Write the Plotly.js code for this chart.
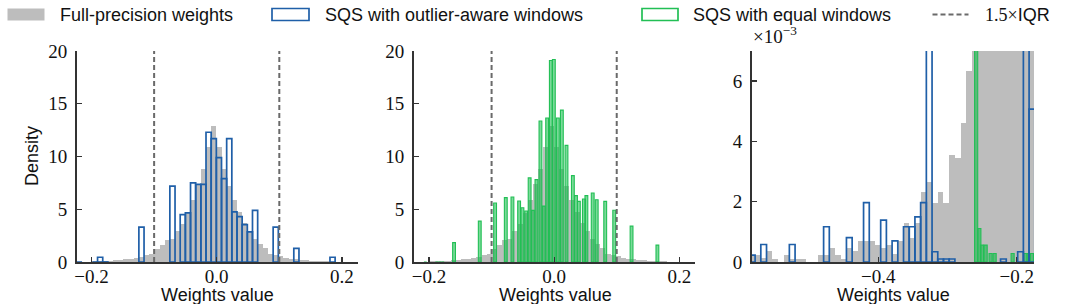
<!DOCTYPE html>
<html><head><meta charset="utf-8">
<script src="https://cdn.plot.ly/plotly-3.0.1.min.js"></script>
<style>html,body{margin:0;padding:0;background:#fff;} #chart{width:1079px;height:304px;}</style>
</head><body><div id="chart"></div>
<script>
// ---------- data ----------
// Histogram bins shared by full-precision and outlier-aware SQS
const binWidth = 0.00825;
const binOrigin = -0.0006;      // left edge of bin index 0
const fpFirstBin = -71;         // bin index of first entry in fpDensity

// Full-precision weights density, bins -71 .. 26
const fpDensity = [
  0.00023, 0.00023, 0.00012, 0.00036, 0.00011, 0, 0.00023, 0.00011, 0.00011, 0.00011,
  0, 0, 0.00023, 0.00023, 0.00048, 0.00023, 0.00011, 0.00048, 0.00036, 0.0007,
  0.0007, 0.0007, 0.00058, 0.00047, 0.00058, 0.00025, 0.0007, 0.00128, 0.00081, 0.00128,
  0.00232, 0.00264, 0.00197, 0.00232, 0.00197, 0.00356, 0.00345, 0.0046, 0.00634, 0.0085,
  0.011, 0.013, 0.016, 0.02, 0.025, 0.03, 0.04, 0.05, 0.07, 0.09,
  0.12, 0.15, 0.2, 0.25, 0.3, 0.4, 0.5, 0.62, 0.75, 1.25,
  1.65, 2.05, 2.2, 2.9, 3.6, 4.65, 5.9, 7.35, 8.8, 10.9,
  12.9, 10.9, 8.8, 7.2, 5.9, 4.75, 3.65, 2.9, 2.2, 1.75,
  1.3, 0.8, 0.66, 0.57, 0.4, 0.3, 0.25, 0.2, 0.15, 0.12,
  0.09, 0.07, 0.05, 0.04, 0.03, 0.02, 0.015, 0.01
];

// SQS with outlier-aware windows (bin index, density)
const outlierBins = [-71, -69, -64, -58, -54, -51, -48, -46, -44, -43, -42, -41, -40, -39, -38, -37, -36, -27, -24, -23, -22,
  -15, -9, -7, -6, -5, -4, -3, -2, -1, 0, 1, 2, 3, 4, 5, 6, 7, 11, 15, 22];
const outlierDensity = [0.00023, 0.00058, 0.00058, 0.00117, 0.00081, 0.00197, 0.00139, 0.0007, 0.00117, 0.00117, 0.0015, 0.00197, 0.45, 0.00034, 0.0001, 0.0001, 0.0001, 0.0001, 0.00034, 0.45, 0.00507,
  3.3, 7.2, 4.5, 4.65, 7.5, 7.35, 7.35, 12.3, 11.7, 9.9, 7.9, 11.7, 4.75, 4.3, 3.55, 2.85, 4.9, 3.3, 1.3, 0.45];

// SQS with equal windows (bin centre, density)
const equalBinWidth = 0.0045;
const equalCenters = [-0.2586, -0.254, -0.2502, -0.2449, -0.2377, -0.2319, -0.2059, -0.1876, -0.1828, -0.178,
  -0.160, -0.1189, -0.0944, -0.0773, -0.0667, -0.056, -0.0507, -0.0448, -0.0392, -0.0339,
  -0.0283, -0.0219, -0.0165, -0.0112, -0.0053, -0.0005, 0.0059, 0.0123, 0.0197, 0.0299,
  0.0349, 0.0395, 0.0475, 0.0515, 0.0616, 0.068, 0.0816, 0.096, 0.1237, 0.165];
const equalDensity = [0.9, 0.00111, 0.00056, 0.00056, 0.00028, 0.00028, 0.00028, 0.00028, 0.00028, 0.00028,
  1.84, 3.87, 5.59, 6.1, 6.16, 5.78, 5.14, 4.83, 7.97, 4.89,
  7.81, 13.36, 5.3, 13.65, 19.1, 19.2, 13.65, 14.4, 11.05, 8.19,
  6.29, 5.75, 5.97, 6.29, 6.54, 5.9, 5.75, 4.9, 3.4, 1.6];

// 1.5 x IQR bounds
const iqrBounds = [-0.1, 0.1];

// ticks
const mainXTicks = [-0.2, 0.0, 0.2];
const mainYTicks = [0, 5, 10, 15, 20];
const zoomXTicks = [-0.4, -0.2];
const zoomYTicks = [0, 0.002, 0.004, 0.006];
const zoomYTickText = ['0', '2', '4', '6'];

const legendLabels = ['Full-precision weights', 'SQS with outlier-aware windows', 'SQS with equal windows',
  '<span style="font-family:Liberation Serif">1.5×</span>IQR'];
const xTitle = 'Weights value';
const yTitle = 'Density';

// ---------- styling ----------
const W = 1079, H = 304;
const GRAY = '#bdbdbd', BLUE = '#1f5fa8', GREEN = '#22bf55', GREENFILL = 'rgba(0,185,60,0.52)';
const DASH = '#6a6a6a', AX = '#333333';
const serif = 'Liberation Serif', sans = 'Liberation Sans';
const px = v => v / W, py = v => 1 - v / H;

const fpCenters = fpDensity.map((_, i) => binOrigin + (fpFirstBin + i + 0.5) * binWidth);
const outlierCenters = outlierBins.map(k => binOrigin + (k + 0.5) * binWidth);

function grayTrace(ax) {
  return {type: 'bar', x: fpCenters, y: fpDensity, width: binWidth, xaxis: 'x' + ax, yaxis: 'y' + ax,
    marker: {color: GRAY, line: {width: 0}}, hoverinfo: 'skip', showlegend: false};
}
function blueTrace(ax) {
  return {type: 'bar', x: outlierCenters, y: outlierDensity, width: binWidth, xaxis: 'x' + ax, yaxis: 'y' + ax,
    marker: {color: 'rgba(0,0,0,0)', line: {color: BLUE, width: 1.7}}, hoverinfo: 'skip', showlegend: false};
}
function greenTrace(ax) {
  return {type: 'bar', x: equalCenters, y: equalDensity, width: equalBinWidth, xaxis: 'x' + ax, yaxis: 'y' + ax,
    marker: {color: GREENFILL, line: {color: GREEN, width: 1.1}}, hoverinfo: 'skip', showlegend: false};
}

const traces = [grayTrace(''), blueTrace(''), grayTrace('2'), greenTrace('2'), grayTrace('3'), greenTrace('3'), blueTrace('3')];

const TICKFONT = {family: serif, size: 19, color: '#111'};
const yDom = [py(262), py(51)];
function xax(dom, range, tv, anchor) {
  return {domain: dom, range: range, tickvals: tv, tickformat: '.1f', anchor: anchor,
    ticks: 'inside', ticklen: 5, tickwidth: 1.3, tickcolor: AX,
    showline: true, linecolor: AX, linewidth: 2, showgrid: false, zeroline: false,
    tickfont: TICKFONT, ticklabelstandoff: -4, fixedrange: true};
}
function yax(range, tv, tt, anchor) {
  const a = {domain: yDom, range: range, tickvals: tv, anchor: anchor,
    ticks: 'inside', ticklen: 5, tickwidth: 1.3, tickcolor: AX,
    showline: true, linecolor: AX, linewidth: 2, showgrid: false, zeroline: false,
    tickfont: TICKFONT, ticklabelstandoff: 4, fixedrange: true};
  if (tt) { a.ticktext = tt; }
  return a;
}

const shapes = [];
iqrBounds.forEach(b => {
  ['x', 'x2'].forEach((xr, i) => {
    shapes.push({type: 'line', xref: xr, yref: (i === 0 ? 'y' : 'y2') + ' domain', x0: b, x1: b, y0: 0, y1: 1,
      line: {color: DASH, width: 2, dash: '5px,3px'}, layer: 'above'});
  });
});

// legend (manual, paper coordinates)
const legY0 = 8.5, legY1 = 20.5, legMid = 14.5;
shapes.push({type: 'rect', xref: 'paper', yref: 'paper', x0: px(7.5), x1: px(44.5), y0: py(legY1), y1: py(legY0),
  fillcolor: GRAY, line: {width: 0}});
shapes.push({type: 'rect', xref: 'paper', yref: 'paper', x0: px(272), x1: px(309), y0: py(legY1), y1: py(legY0),
  fillcolor: 'white', line: {color: BLUE, width: 1.7}});
shapes.push({type: 'rect', xref: 'paper', yref: 'paper', x0: px(642), x1: px(678), y0: py(legY1), y1: py(legY0),
  fillcolor: 'white', line: {color: GREEN, width: 1.7}});
shapes.push({type: 'line', xref: 'paper', yref: 'paper', x0: px(932.5), x1: px(968.5), y0: py(legMid), y1: py(legMid),
  line: {color: DASH, width: 2, dash: '5px,3px'}});

const legX = [58, 323, 691, 983];
const annotations = legendLabels.map((t, i) => ({xref: 'paper', yref: 'paper', x: px(legX[i]), y: py(legMid),
  xanchor: 'left', yanchor: 'middle', text: t, showarrow: false, font: {family: sans, size: 18, color: '#111'}}));

[217, 555, 893].forEach(cx => annotations.push({xref: 'paper', yref: 'paper', x: px(cx), y: py(295),
  xanchor: 'center', yanchor: 'middle', text: xTitle, showarrow: false, font: {family: sans, size: 18, color: '#111'}}));
annotations.push({xref: 'paper', yref: 'paper', x: px(32), y: py(156), xanchor: 'center', yanchor: 'middle',
  textangle: -90, text: yTitle, showarrow: false, font: {family: sans, size: 18, color: '#111'}});
annotations.push({xref: 'paper', yref: 'paper', x: px(751), y: py(49), xanchor: 'left', yanchor: 'bottom',
  text: '×10<sup>−3</sup>', showarrow: false, font: {family: serif, size: 19, color: '#111'}});

const layout = {
  width: W, height: H, margin: {l: 0, r: 0, t: 0, b: 0, pad: 0},
  paper_bgcolor: 'white', plot_bgcolor: 'white', showlegend: false,
  barmode: 'overlay', bargap: 0,
  font: {family: sans, size: 18, color: '#111'},
  xaxis: xax([px(77), px(358)], [-0.2232, 0.2257], mainXTicks, 'y'),
  yaxis: yax([0, 20], mainYTicks, null, 'x'),
  xaxis2: xax([px(414), px(695)], [-0.224, 0.2251], mainXTicks, 'y2'),
  yaxis2: yax([0, 20], mainYTicks, null, 'x2'),
  xaxis3: xax([px(752), px(1034)], [-0.5826, -0.175], zoomXTicks, 'y3'),
  yaxis3: yax([0, 0.007], zoomYTicks, zoomYTickText, 'x3'),
  shapes: shapes, annotations: annotations
};

Plotly.newPlot('chart', traces, layout, {staticPlot: true, displayModeBar: false});
</script></body></html>
